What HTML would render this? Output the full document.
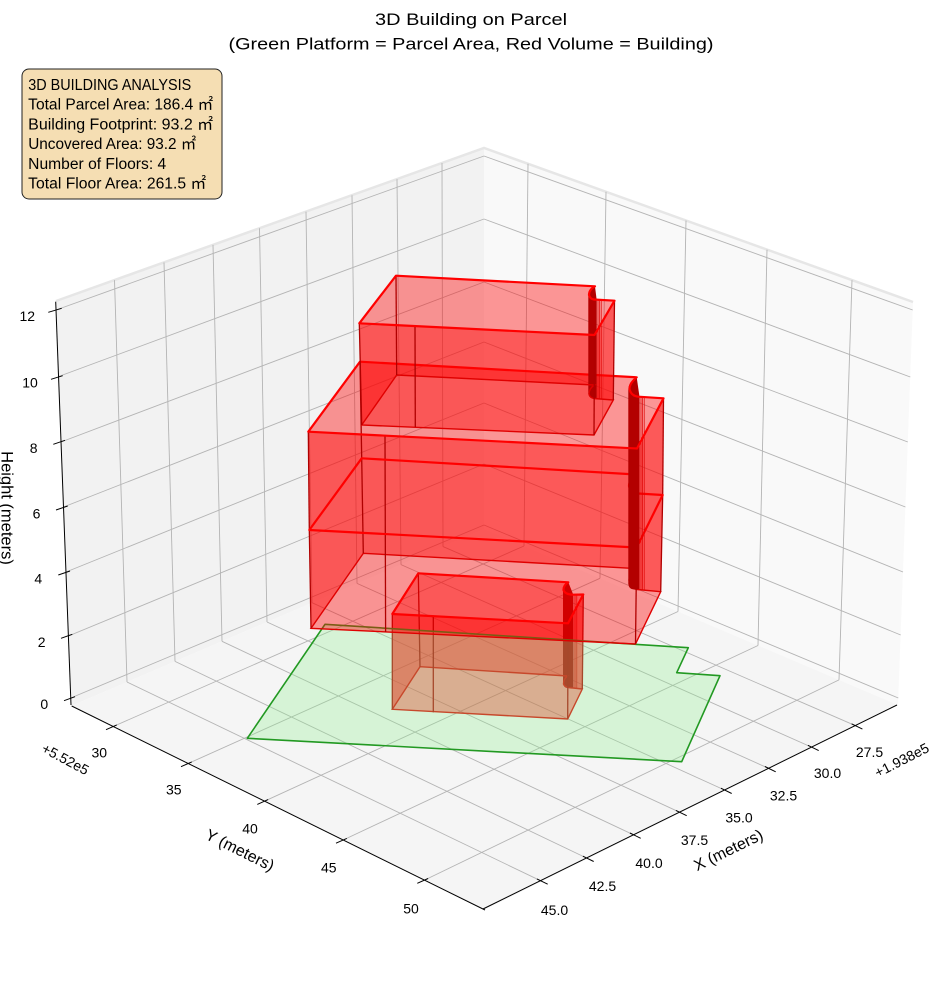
<!DOCTYPE html>
<html><head><meta charset="utf-8">
<style>
html,body{margin:0;padding:0;background:#fff}
svg{display:block}
text{font-family:"Liberation Sans","Noto Sans CJK JP",sans-serif;fill:#000}
</style></head>
<body>
<svg xmlns="http://www.w3.org/2000/svg" width="944" height="992" viewBox="0 0 944 992">
<rect width="944" height="992" fill="#fff"/>

<!-- panes -->
<polygon points="56,301 484,148 484,529 71,706" fill="#f2f2f2"/>
<polygon points="484,148 913,302 898,705 484,529" fill="#f9f9f9"/>
<polygon points="71,706 484,529 898,705 484,910" fill="#f5f5f5"/>
<polyline points="56,301 484,148 913,302" fill="none" stroke="#e6e6e6" stroke-width="2.5"/>

<!-- gridlines -->
<g stroke="#b4b4b4" stroke-width="0.9" fill="none">
  <line x1="855.2" y1="725.6" x2="443" y2="546.6"/>
  <line x1="811.5" y1="747.1" x2="401" y2="564.6"/>
  <line x1="768.5" y1="768.3" x2="357" y2="583.4"/>
  <line x1="724.5" y1="790.0" x2="312" y2="602.7"/>
  <line x1="679.5" y1="812.2" x2="267" y2="622.0"/>
  <line x1="633.5" y1="834.8" x2="222" y2="641.3"/>
  <line x1="586.5" y1="858.0" x2="175" y2="661.4"/>
  <line x1="540.5" y1="880.7" x2="127" y2="682.0"/>
  <line x1="127" y1="682" x2="114.5" y2="280.1"/>
  <line x1="175" y1="661.4" x2="164" y2="262.4"/>
  <line x1="222" y1="641.3" x2="213" y2="244.9"/>
  <line x1="267" y1="622" x2="259.5" y2="228.2"/>
  <line x1="312" y1="602.7" x2="306" y2="211.6"/>
  <line x1="357" y1="583.4" x2="352" y2="195.2"/>
  <line x1="401" y1="564.6" x2="397" y2="179.1"/>
  <line x1="443" y1="546.6" x2="442" y2="163"/>
  <line x1="113.2" y1="726.5" x2="524" y2="546"/>
  <line x1="188.2" y1="763.5" x2="600" y2="578.3"/>
  <line x1="264.5" y1="801.2" x2="678" y2="611.5"/>
  <line x1="343.2" y1="840" x2="758" y2="645.5"/>
  <line x1="424.5" y1="880.1" x2="839" y2="679.9"/>
  <line x1="524" y1="546" x2="528" y2="163.8"/>
  <line x1="600" y1="578.3" x2="606" y2="191.8"/>
  <line x1="678" y1="611.5" x2="686" y2="220.5"/>
  <line x1="758" y1="645.5" x2="767" y2="249.6"/>
  <line x1="839" y1="679.9" x2="852" y2="280.1"/>
  <line x1="56" y1="310" x2="484" y2="156"/>
  <line x1="58.6" y1="376.5" x2="484" y2="219"/>
  <line x1="61" y1="442" x2="484" y2="282"/>
  <line x1="63.5" y1="507" x2="484" y2="342"/>
  <line x1="66" y1="572" x2="484" y2="403"/>
  <line x1="68.4" y1="636" x2="484" y2="464"/>
  <line x1="70.7" y1="698" x2="484" y2="525"/>
  <line x1="484" y1="156" x2="912.7" y2="310"/>
  <line x1="484" y1="219" x2="910.3" y2="377"/>
  <line x1="484" y1="282" x2="907.8" y2="442"/>
  <line x1="484" y1="342" x2="905.4" y2="507"/>
  <line x1="484" y1="403" x2="903" y2="572"/>
  <line x1="484" y1="464" x2="900.7" y2="635"/>
  <line x1="484" y1="525" x2="898.3" y2="698"/>
</g>

<!-- axis lines and ticks -->
<g stroke="#000" stroke-width="1" fill="none">
  <line x1="55.7" y1="301.7" x2="71" y2="705"/>
  <line x1="71.7" y1="706" x2="485" y2="910"/>
  <line x1="483" y1="909" x2="897" y2="705"/>
  <line x1="48.3" y1="312.3" x2="61.7" y2="308.3"/>
  <line x1="51" y1="379.3" x2="62.7" y2="375.7"/>
  <line x1="53.3" y1="444.3" x2="65" y2="440.3"/>
  <line x1="56" y1="510" x2="67.7" y2="506"/>
  <line x1="58.3" y1="575" x2="70" y2="571"/>
  <line x1="61" y1="638.3" x2="72.3" y2="634.3"/>
  <line x1="64" y1="700.7" x2="75" y2="696.7"/>
  <line x1="851.6" y1="723.8" x2="862.4" y2="729.1"/>
  <line x1="807.9" y1="745.3" x2="818.7" y2="750.6"/>
  <line x1="764.9" y1="766.5" x2="775.7" y2="771.8"/>
  <line x1="720.9" y1="788.2" x2="731.7" y2="793.5"/>
  <line x1="675.9" y1="810.4" x2="686.7" y2="815.7"/>
  <line x1="629.9" y1="833.0" x2="640.7" y2="838.3"/>
  <line x1="582.9" y1="856.2" x2="593.7" y2="861.5"/>
  <line x1="536.9" y1="878.9" x2="547.7" y2="884.2"/>
  <line x1="116.8" y1="724.9" x2="106" y2="729.7"/>
  <line x1="191.8" y1="761.9" x2="181" y2="766.7"/>
  <line x1="268.1" y1="799.6" x2="257.3" y2="804.4"/>
  <line x1="346.8" y1="838.4" x2="336" y2="843.2"/>
  <line x1="428.1" y1="878.5" x2="417.3" y2="883.3"/>
</g>

<!-- ===== Box D (ground floor) ===== -->
<g fill="#ff0000" fill-opacity="0.4" stroke="none">
  <polygon points="418.3,573.3 568.3,582.3 567.5,676 420,666.7"/>
  <polygon points="573.3,594.7 583.3,594.5 582.3,689 573,688"/>
  <polygon points="583.3,594.5 568,623.3 567.7,719 582.3,689"/>
  <polygon points="568,623.3 392.3,614 392.3,709.3 567.7,719"/>
  <polygon points="392.3,614 418.3,573.3 420,666.7 392.3,709.3"/>
</g>
<path d="M568.3,582.3 Q563,585 563,591 L563,683 Q563.5,688 568,688 L573.3,688 L573.3,594.7 Z" fill="#b30000"/>
<g stroke="#dd0000" stroke-width="0.7">
  <line x1="575" y1="594.6" x2="575" y2="688.3"/>
  <line x1="576.8" y1="594.6" x2="576.8" y2="688.5"/>
</g>
<path d="M420,666.7 L567.5,676 Q563.5,679 563.5,684 Q565,688 573,688 L582.3,689 L567.7,719 L392.3,709.3 Z" fill="none" stroke="#e00000" stroke-width="1.4"/>
<g stroke="#b00000" stroke-width="1.3">
  <line x1="418.3" y1="573.3" x2="420" y2="666.7"/>
  <line x1="583.3" y1="594.5" x2="582.3" y2="689"/>
  <line x1="568" y1="623.3" x2="567.7" y2="719"/>
  <line x1="433.3" y1="616.2" x2="433.3" y2="712.3"/>
  <line x1="392.3" y1="614" x2="392.3" y2="709.3"/>
</g>
<path d="M418.3,573.3 L568.3,582.3 Q563.5,585 563.5,590 Q565,594.5 573.3,594.7 L583.3,594.5 L568,623.3 L392.3,614 Z" fill="none" stroke="#ff0000" stroke-width="2.2" stroke-linejoin="round"/>

<!-- parcel -->
<polygon points="325,624.3 688.3,647.7 676.7,672.7 720,675.7 681.7,761.7 247.3,738.3" fill="#90ee90" fill-opacity="0.3" stroke="#229922" stroke-width="1.6" stroke-linejoin="round"/>

<!-- ===== Box C ===== -->
<g fill="#ff0000" fill-opacity="0.4" stroke="none">
  <polygon points="361.7,458.3 636.3,474.5 635.7,568.5 363.3,553.3"/>
  <polygon points="638,493.5 662.7,495 660.7,591.7 637.5,589.5"/>
  <polygon points="662.7,495 636.7,547.5 635.5,644 660.7,591.7"/>
  <polygon points="636.7,547.5 309.3,530 311,628.3 635.5,644"/>
  <polygon points="309.3,530 361.7,458.3 363.3,553.3 311,628.3"/>
</g>
<!-- ===== Box B ===== -->
<g fill="#ff0000" fill-opacity="0.4" stroke="none">
  <polygon points="360,361.7 636.7,377.3 636.3,474.5 361.7,458.3"/>
  <polygon points="638.3,396.7 663.5,398.3 662.7,495 638,493.5"/>
  <polygon points="663.5,398.3 637,448.5 636.7,547.5 662.7,495"/>
  <polygon points="637,448.5 308.3,431.7 309.3,530 636.7,547.5"/>
  <polygon points="308.3,431.7 360,361.7 361.7,458.3 309.3,530"/>
</g>
<path d="M363.3,553.3 L635.7,568.5 Q629,574 629,580 Q630.5,589 637.5,589.5 L660.7,591.7 L635.5,644 L311,628.3 Z" fill="none" stroke="#e00000" stroke-width="1.4"/>
<g stroke="#b00000" stroke-width="1.3">
  <line x1="361.7" y1="458.3" x2="363.3" y2="553.3"/>
  <line x1="662.7" y1="495" x2="660.7" y2="591.7"/>
  <line x1="636.7" y1="547.5" x2="635.5" y2="644"/>
  <line x1="385.3" y1="534.1" x2="385.6" y2="631.9"/>
  <line x1="309.3" y1="530" x2="311" y2="628.3"/>
  <line x1="360" y1="361.7" x2="361.7" y2="458.3"/>
  <line x1="663.5" y1="398.3" x2="662.7" y2="495"/>
  <line x1="637" y1="448.5" x2="636.7" y2="547.5"/>
  <line x1="385" y1="435.3" x2="385.3" y2="534.1"/>
  <line x1="308.3" y1="431.7" x2="309.3" y2="530"/>
</g>
<path d="M361.7,458.3 L636.3,474.5 Q629,480 629,486 Q630.5,493 638,493.5 L662.7,495 L636.7,547.5 L309.3,530 Z" fill="none" stroke="#ff0000" stroke-width="2.2" stroke-linejoin="round"/>
<!-- B/C curved band (covers mid hook) -->
<path d="M636.7,377.3 Q628.3,382 628.3,390 L628.3,584 Q629,589.5 634,589.5 L639.5,589 L639.5,396.8 Z" fill="#b30000"/>
<g stroke="#dd0000" stroke-width="0.7">
  <line x1="641" y1="397" x2="641" y2="590"/>
  <line x1="642.6" y1="397" x2="642.6" y2="590"/>
  <line x1="644.2" y1="397" x2="644.2" y2="590"/>
</g>
<path d="M360,361.7 L636.7,377.3 Q629.5,383 629.5,389 Q631,396 638.3,396.7 L663.5,398.3 L637,448.5 L308.3,431.7 Z" fill="none" stroke="#ff0000" stroke-width="2.2" stroke-linejoin="round"/>

<!-- ===== Box A (top) ===== -->
<g fill="#ff0000" fill-opacity="0.4" stroke="none">
  <polygon points="396,275.7 595,286.3 594.5,385 396.7,375"/>
  <polygon points="594,299.5 614.5,300.7 613.3,400 594,398.5"/>
  <polygon points="614.5,300.7 594.5,335 594,435 613.3,400"/>
  <polygon points="594.5,335 359.3,323.3 361.7,425 594,435"/>
  <polygon points="359.3,323.3 396,275.7 396.7,375 361.7,425"/>
</g>
<path d="M595,286.5 Q588.3,290 588.3,296 L588.3,394 Q589,398.5 594,398.5 L596.7,398 L596.7,300 Z" fill="#b30000"/>
<g stroke="#dd0000" stroke-width="0.7">
  <line x1="598" y1="299.6" x2="598" y2="398.8"/>
  <line x1="599.6" y1="299.7" x2="599.6" y2="398.9"/>
  <line x1="601.2" y1="299.8" x2="601.2" y2="399"/>
</g>
<path d="M396.7,375 L594.5,385 Q589,388.5 589,394 Q590,398 594,398.5 L613.3,400 L594,435 L361.7,425 Z" fill="none" stroke="#e00000" stroke-width="1.4"/>
<g stroke="#b00000" stroke-width="1.3">
  <line x1="396" y1="275.7" x2="396.7" y2="375"/>
  <line x1="614.5" y1="300.7" x2="613.3" y2="400"/>
  <line x1="594.5" y1="335" x2="594" y2="435"/>
  <line x1="415" y1="326.3" x2="415.3" y2="427"/>
  <line x1="359.3" y1="323.3" x2="361.7" y2="425"/>
</g>
<path d="M396,275.7 L595,286.3 Q589,289.5 589,295 Q590,299 594,299.5 L614.5,300.7 L594.5,335 L359.3,323.3 Z" fill="none" stroke="#ff0000" stroke-width="2.2" stroke-linejoin="round"/>

<!-- Title -->
<text x="471" y="25" text-anchor="middle" font-size="17" textLength="192" lengthAdjust="spacingAndGlyphs">3D Building on Parcel</text>
<text x="471" y="49.5" text-anchor="middle" font-size="17" textLength="485" lengthAdjust="spacingAndGlyphs">(Green Platform = Parcel Area, Red Volume = Building)</text>

<!-- Info box -->
<rect x="22" y="69" width="200" height="130" rx="7" ry="7" fill="#f5deb3" stroke="#222" stroke-width="1"/>
<g font-size="15.5">
  <text x="28.2" y="90" textLength="163" lengthAdjust="spacingAndGlyphs">3D BUILDING ANALYSIS</text>
  <text x="28.2" y="109.7" textLength="185" lengthAdjust="spacingAndGlyphs">Total Parcel Area: 186.4 ㎡</text>
  <text x="28.2" y="129.4" textLength="185" lengthAdjust="spacingAndGlyphs">Building Footprint: 93.2 ㎡</text>
  <text x="28.2" y="149.1" textLength="168" lengthAdjust="spacingAndGlyphs">Uncovered Area: 93.2 ㎡</text>
  <text x="28.2" y="168.8" textLength="138" lengthAdjust="spacingAndGlyphs">Number of Floors: 4</text>
  <text x="28.2" y="188.4" textLength="178" lengthAdjust="spacingAndGlyphs">Total Floor Area: 261.5 ㎡</text>
</g>

<!-- Z tick labels -->
<g font-size="14" text-anchor="middle">
  <text x="27.3" y="321">12</text>
  <text x="30" y="387.5">10</text>
  <text x="33.7" y="453">8</text>
  <text x="36.5" y="518.5">6</text>
  <text x="38.3" y="583.5">4</text>
  <text x="41.7" y="647">2</text>
  <text x="44.3" y="709">0</text>
</g>
<!-- X tick labels -->
<g font-size="14" text-anchor="middle">
  <text x="869.5" y="757">27.5</text>
  <text x="827.5" y="778">30.0</text>
  <text x="783.5" y="800.5">32.5</text>
  <text x="739" y="822.5">35.0</text>
  <text x="694.5" y="845">37.5</text>
  <text x="649" y="868">40.0</text>
  <text x="602.5" y="891">42.5</text>
  <text x="554.5" y="915">45.0</text>
</g>
<!-- Y tick labels -->
<g font-size="14" text-anchor="middle">
  <text x="99.3" y="757.5">30</text>
  <text x="173.8" y="794.5">35</text>
  <text x="250" y="833.3">40</text>
  <text x="328.8" y="872.5">45</text>
  <text x="411" y="913.3">50</text>
</g>

<!-- offset texts -->
<text transform="translate(901.7,760) rotate(-27)" text-anchor="middle" dy="5" font-size="14">+1.938e5</text>
<text transform="translate(65.5,759) rotate(28)" text-anchor="middle" dy="5" font-size="14">+5.52e5</text>

<!-- axis labels -->
<text transform="translate(728.3,850) rotate(-26)" text-anchor="middle" dy="5.5" font-size="16">X (meters)</text>
<text transform="translate(240,850) rotate(26.5)" text-anchor="middle" dy="5.5" font-size="16">Y (meters)</text>
<text transform="translate(1.5,508) rotate(90)" text-anchor="middle" font-size="16.5">Height (meters)</text>
</svg>
</body></html>
